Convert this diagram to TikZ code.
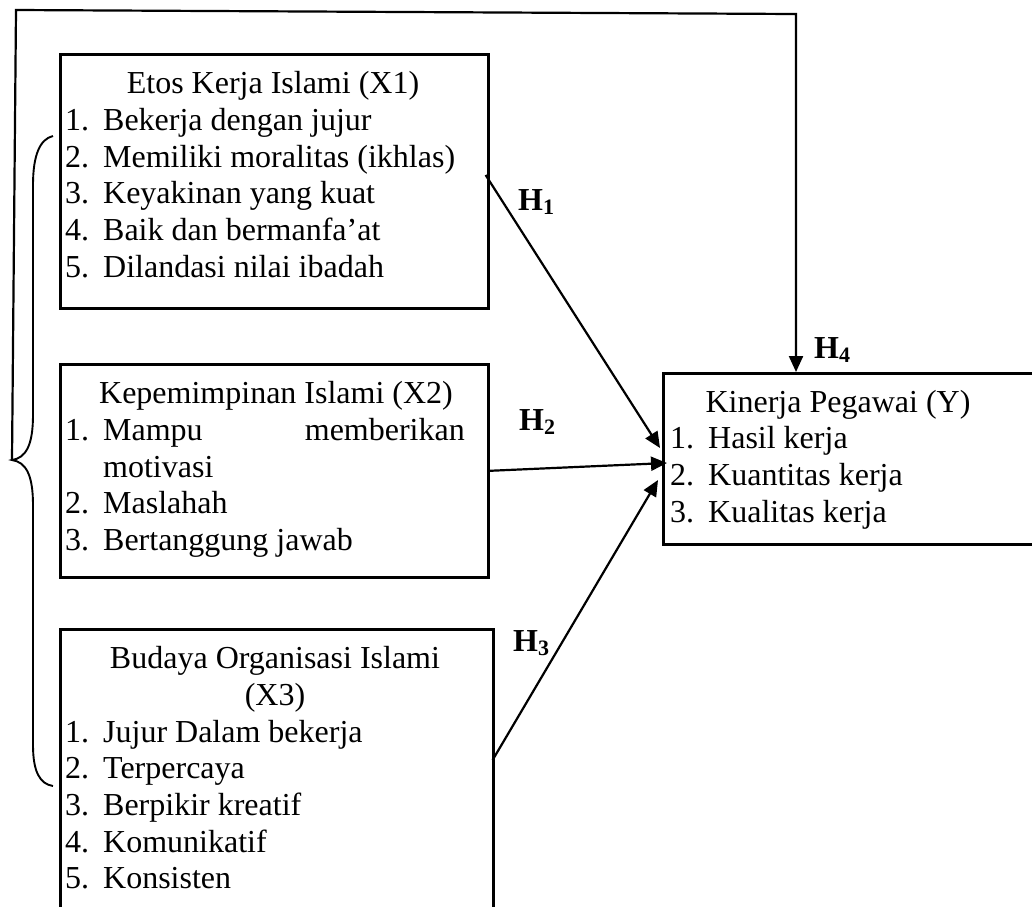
\documentclass[tikz,border=0pt]{standalone}
\usepackage{fontspec}
\setmainfont{Liberation Serif}
\usetikzlibrary{arrows.meta,calc}
\newcommand{\itm}[2]{\makebox[38pt][l]{#1}#2}
\newcommand{\hyp}[1]{H\raisebox{-4pt}{\fontsize{22}{22}\selectfont\bfseries #1}}
\begin{document}
\begin{tikzpicture}[x=1pt,y=-1pt,
  box/.style={draw, line width=2.6pt, rectangle, inner sep=0pt, anchor=north west},
  txt/.style={inner sep=0pt, anchor=base west, font=\fontsize{32}{36.8}\selectfont},
  ctxt/.style={inner sep=0pt, anchor=base, font=\fontsize{32}{36.8}\selectfont},
  hlab/.style={inner sep=0pt, anchor=base west, font=\fontsize{32}{36.8}\selectfont\bfseries},
  conn/.style={line width=2.2pt, -{Triangle[length=16pt,width=14pt]}},
  bracepath/.style={line width=1.9pt}
]
\clip (0,0) rectangle (1032,906);
\fill[white] (0,0) rectangle (1032,906);

% boxes
\node[box, minimum width=428pt, minimum height=254pt] (x1) at (59,53) {};
\node[box, minimum width=428pt, minimum height=213pt] (x2) at (59,363) {};
\node[box, minimum width=433pt, minimum height=292pt] (x3) at (59,628) {};
\node[box, minimum width=383pt, minimum height=171pt] (y) at (662,372) {};

% box 1 text
\node[ctxt] (x1t) at (273,93) {Etos Kerja Islami (X1)};
\node[txt] (x1a) at (65,130) {\itm{1.}{Bekerja dengan jujur}};
\node[txt] (x1b) at (65,167) {\itm{2.}{Memiliki moralitas (ikhlas)}};
\node[txt] (x1c) at (65,203) {\itm{3.}{Keyakinan yang kuat}};
\node[txt] (x1d) at (65,240) {\itm{4.}{Baik dan bermanfa’at}};
\node[txt] (x1e) at (65,277) {\itm{5.}{Dilandasi nilai ibadah}};

% box 2 text
\node[ctxt] (x2t) at (276,403) {Kepemimpinan Islami (X2)};
\node[txt] (x2a) at (65,440) {\itm{1.}{Mampu}};
\node[txt, anchor=base east] (x2a2) at (465,440) {memberikan};
\node[txt] (x2a3) at (103,477) {motivasi};
\node[txt] (x2b) at (65,513) {\itm{2.}{Maslahah}};
\node[txt] (x2c) at (65,550) {\itm{3.}{Bertanggung jawab}};

% box 3 text
\node[ctxt] (x3t) at (275,668) {Budaya Organisasi Islami};
\node[ctxt] (x3t2) at (275,705) {(X3)};
\node[txt] (x3a) at (65,742) {\itm{1.}{Jujur Dalam bekerja}};
\node[txt] (x3b) at (65,778) {\itm{2.}{Terpercaya}};
\node[txt] (x3c) at (65,815) {\itm{3.}{Berpikir kreatif}};
\node[txt] (x3d) at (65,852) {\itm{4.}{Komunikatif}};
\node[txt] (x3e) at (65,888) {\itm{5.}{Konsisten}};

% Y text
\node[ctxt] (yt) at (838,412) {Kinerja Pegawai (Y)};
\node[txt] (ya) at (670,448) {\itm{1.}{Hasil kerja}};
\node[txt] (yb) at (670,485) {\itm{2.}{Kuantitas kerja}};
\node[txt] (yc) at (670,522) {\itm{3.}{Kualitas kerja}};

% hypothesis labels
\node[hlab] (h1) at (518,210) {\hyp{1}};
\node[hlab] (h2) at (519,430) {\hyp{2}};
\node[hlab] (h3) at (513,651) {\hyp{3}};
\node[hlab] (h4) at (814,358) {\hyp{4}};

% brace
\coordinate (bt) at (12,460);
\draw[bracepath] (53,136) .. controls (40,139) and (33,155) .. (33,185)
  -- (33,415) .. controls (33,445) and (26,458) .. (bt)
  .. controls (26,462) and (33,475) .. (33,505)
  -- (33,745) .. controls (33,772) and (40,784) .. (53,786);

% connectors
\coordinate (h4end) at ($(y.north west)+(134,0)$);
\draw[conn] ($(x1.north east)+(-4,122)$) -- ($(y.north west)+(-2,76)$);
\draw[conn] (x2.east) -- ($(y.north west)+(5,91)$);
\draw[conn] ($(x3.north east)+(-2,132)$) -- ($(y.north west)+(-4,108)$);
\draw[conn] (bt) -- (16,10) -- (796,14) -- (h4end);
\end{tikzpicture}
\end{document}
